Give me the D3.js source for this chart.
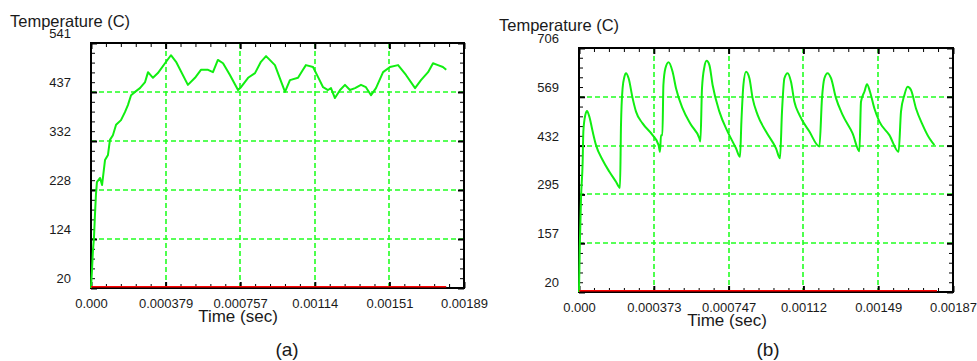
<!DOCTYPE html>
<html>
<head>
<meta charset="utf-8">
<script src="https://cdn.jsdelivr.net/npm/d3@7"></script>
<style>
    body { margin: 0; background: #fff; }
    svg { display: block; }
    text { font-family: "Liberation Sans", Arial, sans-serif; fill: #1a1a1a; }
</style>
</head>
<body>
<svg id="chart" width="977" height="361"></svg>
<script>
(function () {
    'use strict';

    // ---- panel (a) ----
    var timeA = [0, 0.000005, 0.00001, 0.000015, 0.00002, 0.000025, 0.00003, 0.000046, 0.000056, 0.000071,
        0.000086, 0.000096, 0.000111, 0.000127, 0.000152, 0.000172, 0.000187, 0.000203, 0.000223, 0.000248,
        0.000274, 0.000289, 0.000314, 0.000339, 0.000375, 0.000405, 0.000431, 0.000491, 0.000527, 0.000557,
        0.000593, 0.000618, 0.000643, 0.000669, 0.000704, 0.000745, 0.00076, 0.000796, 0.000831, 0.000861,
        0.000887, 0.000932, 0.000983, 0.001008, 0.001049, 0.001074, 0.001089, 0.001125, 0.00115, 0.001176,
        0.001201, 0.001216, 0.001236, 0.001262, 0.001287, 0.001312, 0.001338, 0.001368, 0.001393, 0.001419,
        0.001444, 0.00148, 0.001515, 0.001556, 0.001596, 0.001642, 0.001672, 0.001708, 0.001733, 0.001758,
        0.001783, 0.0018];
    var tempA = [20, 58, 101, 126, 175, 218, 245, 254, 239, 292,
        303, 335, 345, 367, 377, 394, 409, 430, 437, 445,
        458, 479, 467, 477, 498, 515, 501, 452, 467, 484,
        484, 479, 505, 498, 473, 441, 447, 467, 477, 501,
        513, 494, 437, 462, 467, 484, 494, 490, 469, 447,
        441, 445, 424, 441, 452, 441, 445, 452, 447, 430,
        445, 479, 490, 494, 473, 445, 462, 479, 498, 494,
        490, 484];
    var baseTimeA = [0, 0.0018];
    var baseTempA = [20, 20];
    var xTicksA = [0, 0.000378, 0.000756, 0.001134, 0.001512, 0.00189];
    var xLabelsA = ['0.000', '0.000379', '0.000757', '0.00114', '0.00151', '0.00189'];
    var yTicksA = [20, 124.2, 228.4, 332.6, 436.8, 541];
    var yLabelsA = ['20', '124', '228', '332', '437', '541'];

    // ---- panel (b) ----
    var timeB = [0, 0.000004, 0.00001, 0.0000183, 0.0000217, 0.0000317, 0.00004, 0.0000517, 0.0000683, 0.000085,
        0.000118, 0.000152, 0.000185, 0.000205, 0.00021, 0.000218, 0.000227, 0.000235, 0.000248, 0.000268,
        0.000285, 0.000318, 0.000368, 0.000398, 0.000405, 0.00041, 0.000417, 0.000422, 0.000432, 0.000448,
        0.000468, 0.000485, 0.000518, 0.00056, 0.000602, 0.000607, 0.000615, 0.000627, 0.000638, 0.000652,
        0.000668, 0.000702, 0.000743, 0.000785, 0.000805, 0.000812, 0.000822, 0.000835, 0.000852, 0.000868,
        0.000893, 0.000935, 0.000985, 0.001005, 0.001015, 0.001027, 0.001043, 0.00106, 0.001077, 0.001102,
        0.001152, 0.001202, 0.001215, 0.001227, 0.001243, 0.00126, 0.001285, 0.001318, 0.001368, 0.001402,
        0.00141, 0.001427, 0.00144, 0.001455, 0.001477, 0.001502, 0.001552, 0.001598, 0.00161, 0.001627,
        0.001643, 0.00166, 0.001685, 0.001718, 0.001752, 0.001777];
    var tempB = [20, 150, 283, 386, 471, 518, 529, 513, 471, 433,
        391, 358, 330, 313, 490, 593, 625, 635, 621, 565,
        527, 494, 461, 433, 414, 461, 461, 602, 649, 666,
        639, 593, 536, 490, 452, 443, 593, 653, 670, 658,
        602, 527, 471, 424, 400, 499, 602, 639, 621, 565,
        518, 471, 424, 396, 527, 621, 635, 611, 555, 518,
        471, 429, 565, 621, 635, 621, 565, 518, 466, 416,
        555, 583, 604, 583, 536, 499, 461, 414, 527, 574,
        597, 588, 536, 490, 452, 433];
    var baseTimeB = [0, 0.00179];
    var baseTempB = [20, 20];
    var xTicksB = [0, 0.000374, 0.000748, 0.001122, 0.001496, 0.00187];
    var xLabelsB = ['0.000', '0.000373', '0.000747', '0.00112', '0.00149', '0.00187'];
    var yTicksB = [20, 157.2, 294.4, 431.6, 568.8, 706];
    var yLabelsB = ['20', '157', '295', '432', '569', '706'];

    var GRID = '#22ff22';
    var CURVE = '#11ee11';
    var BASE = '#ff0000';

    var svg = d3.select('#chart');

    function minorTicks(major) {
        var out = [];
        for (var i = 0; i < major.length - 1; i++) {
            for (var k = 1; k < 5; k++) {
                out.push(major[i] + (major[i + 1] - major[i]) * k / 5);
            }
        }
        return out;
    }

    function zip(xs, ys) {
        return xs.map(function (t, i) { return [t, ys[i]]; });
    }

    function tickAxis(axisFn, scale, values, size, width) {
        return function (sel) {
            sel.call(axisFn(scale).tickValues(values).tickSize(-size).tickFormat(''));
            sel.select('.domain').remove();
            sel.selectAll('.tick line').attr('stroke', '#000').attr('stroke-width', width);
        };
    }

    function drawPanel(p) {
        var x = d3.scaleLinear().domain([0, p.xTicks[p.xTicks.length - 1]]).range([0, p.width]);
        var y = d3.scaleLinear().domain([p.yTicks[0], p.yTicks[p.yTicks.length - 1]]).range([p.height, 0]);
        var g = svg.append('g').attr('transform', 'translate(' + p.left + ',' + p.top + ')');

        // dashed grid at interior major ticks
        var grid = g.append('g').attr('stroke', GRID).attr('stroke-width', 1.6).attr('stroke-dasharray', '5,3');
        grid.selectAll('line.vx').data(p.xTicks.slice(1, -1)).join('line').attr('class', 'vx')
            .attr('x1', function (d) { return Math.round(x(d)); })
            .attr('x2', function (d) { return Math.round(x(d)); })
            .attr('y1', 0).attr('y2', p.height);
        grid.selectAll('line.hy').data(p.yTicks.slice(1, -1)).join('line').attr('class', 'hy')
            .attr('y1', function (d) { return Math.round(y(d)); })
            .attr('y2', function (d) { return Math.round(y(d)); })
            .attr('x1', 0).attr('x2', p.width);

        // frame
        g.append('rect').attr('width', p.width).attr('height', p.height)
            .attr('fill', 'none').attr('stroke', '#000').attr('stroke-width', 2);

        var xMinor = minorTicks(p.xTicks), yMinor = minorTicks(p.yTicks);
        g.append('g').attr('transform', 'translate(0,' + p.height + ')').call(tickAxis(d3.axisBottom, x, xMinor, 4, 1));
        g.append('g').call(tickAxis(d3.axisTop, x, xMinor, 4, 1));
        g.append('g').call(tickAxis(d3.axisLeft, y, yMinor, 4, 1));
        g.append('g').attr('transform', 'translate(' + p.width + ',0)').call(tickAxis(d3.axisRight, y, yMinor, 4, 1));
        g.append('g').call(tickAxis(d3.axisTop, x, p.xTicks, 6, 2));
        g.append('g').attr('transform', 'translate(' + p.width + ',0)').call(tickAxis(d3.axisRight, y, p.yTicks, 6, 2));

        // labelled axes
        var xa = g.append('g').attr('transform', 'translate(0,' + p.height + ')')
            .call(d3.axisBottom(x).tickValues(p.xTicks).tickSize(-6).tickPadding(11)
                .tickFormat(function (d, i) { return p.xLabels[i]; }));
        var ya = g.append('g')
            .call(d3.axisLeft(y).tickValues(p.yTicks).tickSize(-6).tickPadding(20)
                .tickFormat(function (d, i) { return p.yLabels[i]; }));
        [xa, ya].forEach(function (a) {
            a.attr('font-size', null).attr('font-family', null);
            a.select('.domain').remove();
            a.selectAll('.tick line').attr('stroke', '#000').attr('stroke-width', 2);
            a.selectAll('.tick text').style('font-size', '13px').attr('fill', '#1a1a1a');
        });
        ya.selectAll('.tick text').attr('dy', '-0.42em');

        // series
        var line = d3.line().x(function (d) { return x(d[0]); }).y(function (d) { return y(d[1]); });
        g.append('path').datum(zip(p.time, p.temp))
            .attr('d', line.curve(p.curve)).attr('fill', 'none')
            .attr('stroke', CURVE).attr('stroke-width', 2).attr('stroke-linejoin', 'round');
        g.append('path').datum(zip(p.baseTime, p.baseTemp))
            .attr('d', line.curve(d3.curveLinear)).attr('fill', 'none')
            .attr('stroke', BASE).attr('stroke-width', 1.5).attr('transform', 'translate(0,-1.2)');

        // titles
        svg.append('text').attr('x', p.titleX).attr('y', p.titleY)
            .style('font-size', '16.5px').text('Temperature (C)');
        svg.append('text').attr('x', p.timeX).attr('y', p.top + p.height + 34)
            .attr('text-anchor', 'middle').style('font-size', '17px').text('Time (sec)');
        svg.append('text').attr('x', p.capX).attr('y', 356)
            .attr('text-anchor', 'middle').style('font-size', '19px').text(p.caption);
    }

    drawPanel({
        left: 91, top: 43, width: 373, height: 245,
        xTicks: xTicksA, xLabels: xLabelsA, yTicks: yTicksA, yLabels: yLabelsA,
        time: timeA, temp: tempA, baseTime: baseTimeA, baseTemp: baseTempA,
        curve: d3.curveLinear,
        titleX: 10, titleY: 27, timeX: 238, capX: 287, caption: '(a)'
    });

    drawPanel({
        left: 579, top: 48, width: 374, height: 244,
        xTicks: xTicksB, xLabels: xLabelsB, yTicks: yTicksB, yLabels: yLabelsB,
        time: timeB, temp: tempB, baseTime: baseTimeB, baseTemp: baseTempB,
        curve: d3.curveMonotoneX,
        titleX: 499, titleY: 31, timeX: 727, capX: 768, caption: '(b)'
    });
}());
</script>
</body>
</html>
